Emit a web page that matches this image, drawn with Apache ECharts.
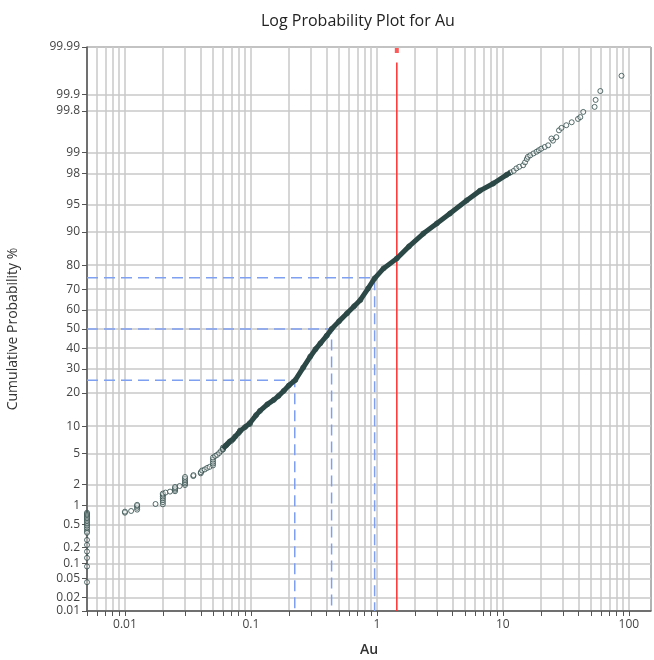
<!DOCTYPE html>
<html>
<head>
<meta charset="utf-8">
<title>Log Probability Plot for Au</title>
<script src="https://cdn.jsdelivr.net/npm/echarts@6/dist/echarts.min.js"></script>
<style>
  html, body { margin: 0; padding: 0; background: #fff; }
  #main { width: 654px; height: 660px; }
</style>
</head>
<body>
<div id="main"></div>
<script>
// probability ticks (%) on the y axis
const probTicks = [0.01, 0.02, 0.05, 0.1, 0.2, 0.5, 1, 2, 5, 10, 20, 30, 40, 50, 60, 70, 80, 90, 95, 98, 99, 99.8, 99.9, 99.99];
// Au grid lines and labels on the log x axis
const xGridValues = [0.005, 0.006, 0.007, 0.008, 0.009,
  0.01, 0.02, 0.03, 0.04, 0.05, 0.06, 0.07, 0.08, 0.09,
  0.1, 0.2, 0.3, 0.4, 0.5, 0.6, 0.7, 0.8, 0.9,
  1, 2, 3, 4, 5, 6, 7, 8, 9,
  10, 20, 30, 40, 50, 60, 70, 80, 90, 100];
const xLabelValues = [0.01, 0.1, 1, 10, 100];
const xLabels = ["0.01", "0.1", "1", "10", "100"];
const xMin = 0.005, xMax = 150;

// samples below detection, plotted at 0.005 (cumulative %)
const belowDetectionAu = 0.005;
const belowDetectionPct = [0.77, 0.74, 0.71, 0.68, 0.65, 0.62, 0.59, 0.56, 0.53, 0.5, 0.47, 0.44, 0.41, 0.38, 0.36, 0.27, 0.22, 0.167, 0.127, 0.087, 0.042];

// [Au, cumulative %]
const lowerPoints = [
  [0.010, 0.77], [0.010, 0.80], [0.0112, 0.82], [0.0125, 0.86], [0.0125, 0.92], [0.0125, 0.98], [0.0125, 1.02],
  [0.0175, 1.05], [0.020, 1.04], [0.020, 1.12], [0.020, 1.2], [0.020, 1.28], [0.020, 1.36], [0.020, 1.44], [0.020, 1.5],
  [0.021, 1.55], [0.0228, 1.6], [0.025, 1.62], [0.025, 1.7], [0.025, 1.78], [0.025, 1.86], [0.0272, 1.92],
  [0.030, 1.98], [0.030, 2.08], [0.030, 2.18], [0.030, 2.3], [0.030, 2.42], [0.030, 2.55], [0.0349, 2.62], [0.035, 2.7],
  [0.040, 2.85], [0.040, 2.95], [0.041, 3.1], [0.043, 3.2], [0.045, 3.35], [0.047, 3.45],
  [0.050, 3.6], [0.050, 3.8], [0.050, 4.0], [0.050, 4.25], [0.050, 4.5], [0.052, 4.7], [0.054, 4.85], [0.056, 5.1],
  [0.058, 5.4], [0.060, 5.6], [0.060, 5.9], [0.063, 6.2], [0.066, 6.6], [0.070, 7.0], [0.075, 7.8], [0.080, 8.5],
  [0.082, 9.0], [0.090, 9.8], [0.098, 10.5]
];

// dense part of the curve
const densePoints = [
  [0.060, 5.7], [0.064, 6.3], [0.068, 6.9], [0.072, 7.3], [0.082, 8.9], [0.098, 10.7], [0.11, 12.8], [0.118, 14.0],
  [0.135, 16.0], [0.152, 17.5], [0.165, 18.8], [0.182, 20.7], [0.2, 22.8], [0.225, 25.0], [0.26, 30.5], [0.296, 35.8],
  [0.326, 39.5], [0.356, 42.5], [0.40, 46.5], [0.437, 50], [0.5, 54], [0.58, 58.2], [0.66, 61.8], [0.74, 64.9],
  [0.85, 70.3], [0.96, 74.8], [1.13, 78.8], [1.44, 82.4], [1.8, 86.2], [2.34, 89.6], [2.99, 91.8], [3.8, 93.6],
  [5.16, 95.5], [6.6, 96.6], [8.4, 97.25], [10.7, 97.9], [11.5, 98.05]
];

const upperPoints = [
  [12.2, 98.15], [12.8, 98.29], [13.5, 98.38], [14.5, 98.46], [15.0, 98.6], [15.5, 98.75], [15.8, 98.84], [16.5, 98.9],
  [17.5, 98.97], [18.5, 99.03], [19.3, 99.08], [20.2, 99.13], [21.5, 99.18], [22.9, 99.23], [25.0, 99.35], [24.3, 99.4],
  [26.6, 99.43], [27.9, 99.56], [29.2, 99.6], [31.9, 99.64], [35.2, 99.68], [39.5, 99.72], [41.2, 99.74], [43.5, 99.79],
  [53.5, 99.83], [54.5, 99.874], [59.4, 99.915], [87.5, 99.958]
];

// quartiles (%) and their Au values
const quartilePct = [25, 50, 75];
const quartileAu = [0.223, 0.437, 0.96];
// mean
const meanAu = 1.44;
const meanLineTopPct = 99.978;
const meanMarkPct = 99.988;

// inverse normal CDF (Acklam)
function probit(p) {
  const a = [-3.969683028665376e+01, 2.209460984245205e+02, -2.759285104469687e+02, 1.383577518672690e+02, -3.066479806614716e+01, 2.506628277459239e+00];
  const b = [-5.447609879822406e+01, 1.615858368580409e+02, -1.556989798598866e+02, 6.680131188771972e+01, -1.328068155288572e+01];
  const c = [-7.784894002430293e-03, -3.223964580411365e-01, -2.400758277161838e+00, -2.549732539343734e+00, 4.374664141464968e+00, 2.938163982698783e+00];
  const d = [7.784695709041462e-03, 3.224671290700398e-01, 2.445134137142996e+00, 3.754408661907416e+00];
  const pl = 0.02425, ph = 1 - pl;
  let q, r;
  if (p < pl) {
    q = Math.sqrt(-2 * Math.log(p));
    return (((((c[0] * q + c[1]) * q + c[2]) * q + c[3]) * q + c[4]) * q + c[5]) / ((((d[0] * q + d[1]) * q + d[2]) * q + d[3]) * q + 1);
  }
  if (p <= ph) {
    q = p - 0.5; r = q * q;
    return (((((a[0] * r + a[1]) * r + a[2]) * r + a[3]) * r + a[4]) * r + a[5]) * q / (((((b[0] * r + b[1]) * r + b[2]) * r + b[3]) * r + b[4]) * r + 1);
  }
  q = Math.sqrt(-2 * Math.log(1 - p));
  return -(((((c[0] * q + c[1]) * q + c[2]) * q + c[3]) * q + c[4]) * q + c[5]) / ((((d[0] * q + d[1]) * q + d[2]) * q + d[3]) * q + 1);
}
const zOf = pct => probit(pct / 100);
const lx = v => Math.log10(v);
const pt = p => [lx(p[0]), zOf(p[1])];

const yTickZ = probTicks.map(zOf);
const yMin = yTickZ[0], yMax = yTickZ[yTickZ.length - 1];
const xMinL = lx(xMin), xMaxL = lx(xMax);

const pointColor = "#2c4846";

const scatterData = belowDetectionPct.map(p => [lx(belowDetectionAu), zOf(p)])
  .concat(lowerPoints.map(pt), densePoints.map(pt), upperPoints.map(pt));

const quartileSeries = quartilePct.map((p, i) => ({
  type: "line",
  silent: true,
  symbol: "none",
  z: 3,
  lineStyle: { color: "#7f9ff0", width: 1.5, type: [11, 6] },
  data: [[xMinL, zOf(p)], [lx(quartileAu[i]), zOf(p)], [lx(quartileAu[i]), yMin]]
}));

const myChart = echarts.init(document.getElementById("main"));
const option = {
  animation: false,
  backgroundColor: "#fff",
  textStyle: { fontFamily: "Open Sans" },
  title: {
    text: "Log Probability Plot for Au",
    left: 256,
    top: 8,
    textStyle: { fontSize: 16, fontWeight: "normal", color: "#222", fontFamily: "Open Sans" }
  },
  grid: {
    left: 87, right: 3, top: 47, bottom: 49,
    show: true, borderColor: "#666", borderWidth: 1,
    outerBoundsMode: "none"
  },
  xAxis: {
    type: "value",
    min: xMinL,
    max: xMaxL,
    name: "Au",
    nameLocation: "middle",
    nameGap: 32,
    nameTextStyle: { fontSize: 14, fontWeight: 600, color: "#333" },
    axisLine: { onZero: false, lineStyle: { color: "#555", width: 1.5 } },
    axisTick: { show: true, length: 5, customValues: xGridValues.map(lx), lineStyle: { color: "#555" } },
    axisLabel: {
      customValues: xLabelValues.map(lx),
      margin: 8,
      fontSize: 12,
      color: "#444",
      formatter: v => {
        const i = xLabelValues.findIndex(t => Math.abs(lx(t) - v) < 1e-6);
        return i >= 0 ? xLabels[i] : "";
      }
    },
    splitLine: { show: true, lineStyle: { color: "#c8c8c8", width: 1.5 } }
  },
  yAxis: {
    type: "value",
    min: yMin,
    max: yMax,
    name: "Cumulative Probability %",
    nameLocation: "middle",
    nameGap: 67,
    nameTextStyle: { fontSize: 14, color: "#333" },
    axisLine: { show: true, onZero: false, lineStyle: { color: "#555", width: 1.5 } },
    axisTick: { show: true, length: 5, customValues: yTickZ, lineStyle: { color: "#555" } },
    axisLabel: {
      customValues: yTickZ,
      margin: 7,
      fontSize: 12,
      color: "#444",
      formatter: v => {
        const i = yTickZ.findIndex(t => Math.abs(t - v) < 1e-6);
        return i >= 0 ? String(probTicks[i]) : "";
      }
    },
    splitLine: { show: true, lineStyle: { color: "#c8c8c8", width: 1.5 } }
  },
  series: quartileSeries.concat([
    {
      type: "line",
      silent: true,
      symbol: "none",
      z: 3,
      lineStyle: { color: "#ff3030", width: 1.5 },
      data: [[lx(meanAu), yMin], [lx(meanAu), zOf(meanLineTopPct)]]
    },
    {
      type: "scatter",
      silent: true,
      symbol: "rect",
      symbolSize: [4, 5],
      z: 3,
      itemStyle: { color: "#ff3030" },
      data: [[lx(meanAu), zOf(meanMarkPct)]]
    },
    {
      type: "scatter",
      silent: true,
      symbol: "circle",
      symbolSize: 5,
      z: 4,
      itemStyle: { color: "rgba(255,255,255,0.5)", borderColor: pointColor, borderWidth: 1 },
      data: scatterData
    },
    {
      type: "line",
      silent: true,
      symbol: "none",
      z: 5,
      lineStyle: { color: pointColor, width: 5 },
      data: densePoints.map(pt)
    }
  ])
};
myChart.setOption(option);
</script>
</body>
</html>
